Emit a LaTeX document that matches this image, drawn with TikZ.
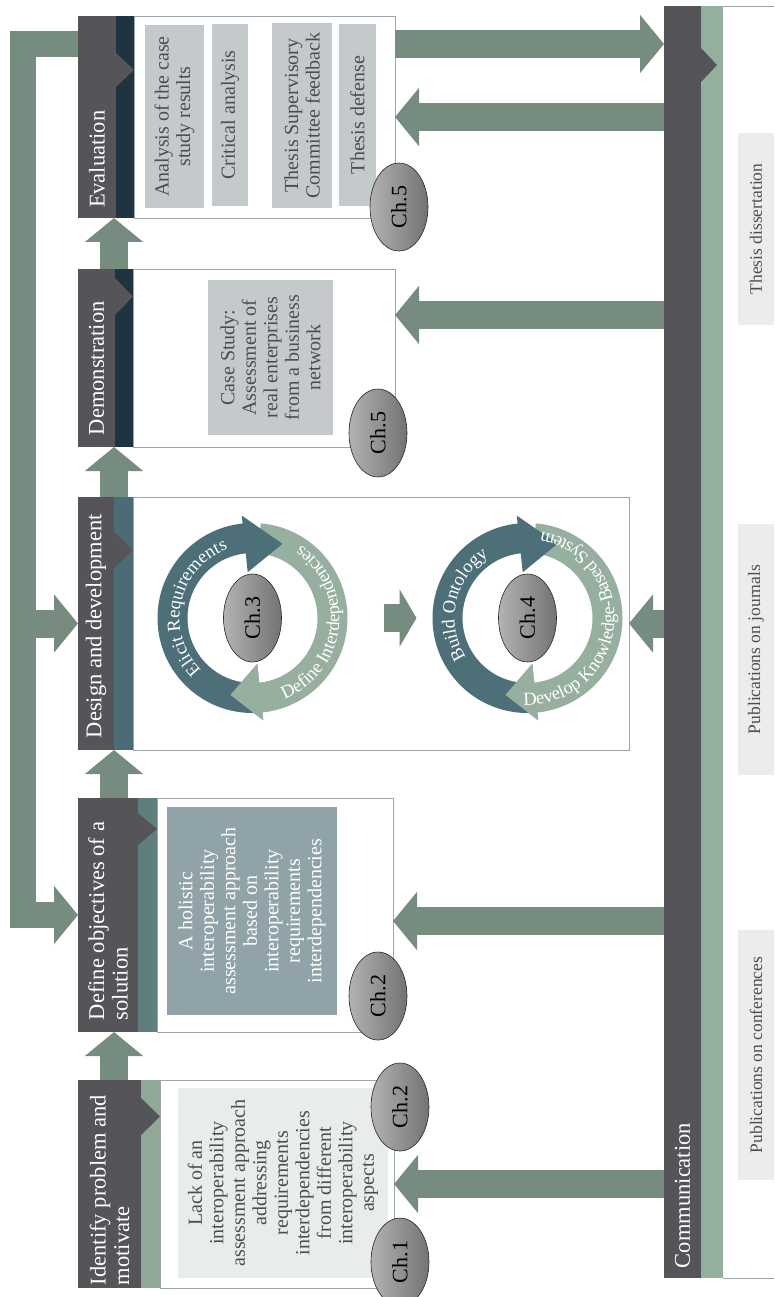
\documentclass[tikz,border=0pt]{standalone}
\usepackage{fontspec}
\setmainfont{Liberation Serif}
\usepackage{graphicx}
\usetikzlibrary{positioning,calc,arrows.meta,shapes.geometric,decorations.text}

\definecolor{labgray}{HTML}{555459}
\definecolor{flowgreen}{HTML}{768C7E}
\definecolor{sage}{HTML}{8FA898}
\definecolor{tealstrip}{HTML}{5E7F7D}
\definecolor{bluestrip}{HTML}{4B6C75}
\definecolor{navystrip}{HTML}{1E3440}
\definecolor{commstrip}{HTML}{95AF9F}
\definecolor{paleboxcol}{HTML}{E8ECEA}
\definecolor{slatebox}{HTML}{8FA3A8}
\definecolor{greybox}{HTML}{C4C9CC}
\definecolor{pubbox}{HTML}{EAEDEB}
\definecolor{ringdark}{HTML}{4D6F78}
\definecolor{ringlight}{HTML}{97AF9F}
\definecolor{boxline}{HTML}{9AA6AB}
\definecolor{bodytext}{HTML}{4D4D4D}

\newcommand{\vlabel}[2]{\rotatebox{90}{\parbox{#1}{\raggedright #2}}}
\newcommand{\vtext}[2]{\rotatebox{90}{\parbox{#1}{\centering #2}}}
\newcommand{\chlabel}[1]{\rotatebox{90}{#1}}
\newcommand{\ringfont}{\fontsize{18.5}{19}\selectfont\color{white}}
\newcommand{\notch}[4]{\fill[labgray] (#1.east |- 0,#3) -- (#2.east |- 0,{(#3+#4)/2}) -- (#1.east |- 0,#4) -- cycle;}
\newcommand{\ringdiagram}[3]{%
  \fill[ringlight] ($(#1)+(275:95)$) arc[start angle=275, end angle=444, radius=95]
    -- ($(#1)+(444:103)$) -- ($(#1)+(466:80)$) -- ($(#1)+(444:46)$)
    -- ($(#1)+(444:65)$) arc[start angle=444, end angle=275, radius=65] -- cycle;
  \fill[ringdark] ($(#1)+(86:95)$) arc[start angle=86, end angle=264, radius=95]
    -- ($(#1)+(264:103)$) -- ($(#1)+(292:80)$) -- ($(#1)+(264:46)$)
    -- ($(#1)+(264:65)$) arc[start angle=264, end angle=86, radius=65] -- cycle;
  \fill[ringlight] ($(#1)+(444:103)$) -- ($(#1)+(466:80)$) -- ($(#1)+(444:46)$) -- cycle;
  \path[decorate, decoration={text along path, text align=center, text={|\ringfont|#2}}]
    ($(#1)+(110:73)$) arc[start angle=110, end angle=275, radius=73];
  \path[decorate, decoration={text along path, text align=center, text={|\ringfont|#3}}]
    ($(#1)+(108:87)$) arc[start angle=108, end angle=-96, radius=87];
}

\begin{document}
\begin{tikzpicture}[
    x=1pt, y=-1pt,
    stagelab/.style={fill=labgray, text=white, inner sep=0pt, outer sep=0pt,
      font=\fontsize{22.5}{23.5}\selectfont},
    strip/.style={inner sep=0pt, outer sep=0pt, minimum width=19pt},
    contentbox/.style={draw=boxline, line width=0.8pt, fill=white,
      inner sep=0pt, outer sep=0pt},
    innerbox/.style={inner sep=0pt, text=bodytext, font=\fontsize{20}{21.5}\selectfont},
    chnode/.style={ellipse, draw=black!85, line width=0.6pt, left color=black!30,
      right color=black!55, minimum width=58pt, minimum height=88pt, inner sep=0pt,
      font=\fontsize{22}{22}\selectfont},
    pubnode/.style={fill=pubbox, text=bodytext, inner sep=0pt, minimum width=36pt,
      font=\fontsize{17.5}{21}\selectfont},
    flowarrow/.style={draw=flowgreen, line width=28pt,
      -{Triangle[width=57pt,length=24pt]}}
  ]
  \useasboundingbox (0,0) rectangle (774,1297);

  % ============= IDENTIFY ==================

  % -------------------------------
  \node[stagelab, minimum width=63pt, minimum height=208pt] (idlab) at (109.5,1184)
    {\vlabel{202pt}{Identify problem and\\motivate}};
  \node[strip, fill=sage, minimum height=208pt, right=0pt of idlab] (idstrip) {};
  \node[contentbox, minimum width=234pt, minimum height=208pt, right=0pt of idstrip] (idbox) {};
  \notch{idlab}{idstrip}{1098}{1135}
  \node[innerbox, fill=paleboxcol, minimum width=210pt, minimum height=190pt] (idtxt) at (283,1183)
    {\vtext{185pt}{Lack of an\\interoperability\\assessment approach\\addressing\\requirements\\interdependencies\\from different\\interoperability\\aspects}};
  % -------------------------------

  % ============= DEFINE ==================

  % -------------------------------
  \node[stagelab, minimum width=60pt, minimum height=234pt] (dflab) at (108,915)
    {\vlabel{210pt}{Define objectives of a\\solution}};
  \node[strip, fill=tealstrip, minimum height=234pt, right=0pt of dflab] (dfstrip) {};
  \node[contentbox, minimum width=236pt, minimum height=234pt, right=0pt of dfstrip] (dfbox) {};
  \notch{dflab}{dfstrip}{813}{845}
  \node[innerbox, fill=slatebox, text=white, minimum width=170pt, minimum height=208pt] (dftxt) at (252,911)
    {\vtext{200pt}{A holistic\\interoperability\\assessment approach\\based on\\interoperability\\requirements\\interdependencies}};
  % -------------------------------

  % ============= DESIGN ==================

  % -------------------------------
  \node[stagelab, minimum width=36pt, minimum height=253pt] (dslab) at (96,623.5)
    {\vlabel{229pt}{Design and development}};
  \node[strip, fill=bluestrip, minimum height=253pt, right=0pt of dslab] (dsstrip) {};
  \node[contentbox, minimum width=496pt, minimum height=253pt, right=0pt of dsstrip] (dsbox) {};
  \notch{dslab}{dsstrip}{532}{568}
  \coordinate (cyc1) at (252.5,618);
  \coordinate (cyc2) at (527.5,618);
  \ringdiagram{cyc1}{Elicit Requirements}{Define Interdependencies}
  \ringdiagram{cyc2}{Build Ontology}{Develop Knowledge-Based System}
  % -------------------------------

  % ============= DEMONSTRATION ==================

  % -------------------------------
  \node[stagelab, minimum width=37pt, minimum height=178pt] (dmlab) at (96.5,358)
    {\vlabel{154pt}{Demonstration}};
  \node[strip, fill=navystrip, minimum width=18pt, minimum height=178pt, right=0pt of dmlab] (dmstrip) {};
  \node[contentbox, minimum width=262pt, minimum height=178pt, right=0pt of dmstrip] (dmbox) {};
  \notch{dmlab}{dmstrip}{278}{315}
  \node[innerbox, fill=greybox, minimum width=125pt, minimum height=155pt] (dmtxt) at (270.5,357.5)
    {\vtext{150pt}{Case Study:\\Assessment of\\real enterprises\\from a business\\network}};
  % -------------------------------

  % ============= EVALUATION ==================

  % -------------------------------
  \node[stagelab, minimum width=38pt, minimum height=202pt] (evlab) at (97,117)
    {\vlabel{182pt}{Evaluation}};
  \node[strip, fill=navystrip, minimum width=18pt, minimum height=202pt, right=0pt of evlab] (evstrip) {};
  \node[contentbox, minimum width=261pt, minimum height=202pt, right=0pt of evstrip] (evbox) {};
  \notch{evlab}{evstrip}{53}{87}
  \node[innerbox, fill=greybox, minimum width=59pt, minimum height=183pt] (evres) at (174.5,116.5)
    {\vtext{180pt}{Analysis of the case\\study results}};
  \node[innerbox, fill=greybox, minimum width=36pt, minimum height=182pt] (evcrit) at (230,115)
    {\vtext{180pt}{Critical analysis}};
  \node[innerbox, fill=greybox, minimum width=60pt, minimum height=185pt] (evtsc) at (302,115.5)
    {\vtext{180pt}{Thesis Supervisory\\Committee feedback}};
  \node[innerbox, fill=greybox, minimum width=37pt, minimum height=182pt] (evdef) at (357.5,115)
    {\vtext{180pt}{Thesis defense}};
  % -------------------------------

  % ============= COMMUNICATION ==================

  % -------------------------------
  \node[stagelab, minimum width=37pt, minimum height=1272pt] (cmlab) at (682.5,642)
    {\vlabel{1252pt}{Communication}};
  \node[strip, fill=commstrip, minimum width=22pt, minimum height=1272pt, right=0pt of cmlab] (cmstrip) {};
  \draw[boxline, line width=0.8pt] (cmstrip.north east) -- (cmstrip.north east -| 774,0)
    (cmstrip.south east) -- (cmstrip.south east -| 774,0);
  \fill[labgray] (cmlab.east |- 0,48) -- (717,65) -- (cmlab.east |- 0,82) -- cycle;

  \node[pubnode, minimum height=192pt] (thesis) at (756,229) {\rotatebox{90}{Thesis dissertation}};
  \node[pubnode, minimum height=251pt] (journals) at (756,649.5) {\rotatebox{90}{Publications on journals}};
  \node[pubnode, minimum height=250pt] (confs) at (756,1055) {\rotatebox{90}{Publications on conferences}};
  % -------------------------------

  % ============= FLECHES ==================
  \coordinate (col) at (114,0);
  \coordinate (fbx) at (23,0);
  \draw[flowarrow] (idlab.north -| col) -- (dflab.south -| col);
  \draw[flowarrow] (dflab.north -| col) -- (dslab.south -| col);
  \draw[flowarrow] (dslab.north -| col) -- (dmlab.south -| col);
  \draw[flowarrow] (dmlab.north -| col) -- (evlab.south -| col);

  \draw[flowarrow, line width=26pt] ([yshift=-28pt]evlab.north west) -| (fbx |- dflab.west) -- (dflab.west);
  \draw[flowarrow] (fbx |- dslab.west) -- (dslab.west);

  \coordinate (evout) at ([yshift=-28pt]evbox.north east);
  \draw[flowarrow] (evout) -- (evout -| cmlab.west);
  \draw[flowarrow] (cmlab.west |- evbox.east) -- (evbox.east);
  \draw[flowarrow] (cmlab.west |- 0,315) -- (dmbox.east |- 0,315);
  \draw[flowarrow] (cmlab.west |- dsbox.east) -- (dsbox.east);
  \draw[flowarrow] (cmlab.west |- 0,921) -- (dfbox.east |- 0,921);
  \draw[flowarrow] (cmlab.west |- idbox.east) -- (idbox.east);
  \draw[flowarrow, -{Triangle[width=57pt,length=17pt]}] ([xshift=131pt]cyc1) -- ([xshift=-111pt]cyc2);

  % ============= CHAPITRES ==================
  \node[chnode] (ch1) at (400,1262) {\chlabel{Ch.1}};
  \node[chnode] (ch2a) at (400,1107) {\chlabel{Ch.2}};
  \node[chnode] (ch2b) at (378,996) {\chlabel{Ch.2}};
  \node[chnode] (ch3) at (cyc1) {\chlabel{Ch.3}};
  \node[chnode] (ch4) at (cyc2) {\chlabel{Ch.4}};
  \node[chnode] (ch5a) at (378,433) {\chlabel{Ch.5}};
  \node[chnode] (ch5b) at (399,207) {\chlabel{Ch.5}};

\end{tikzpicture}
\end{document}
